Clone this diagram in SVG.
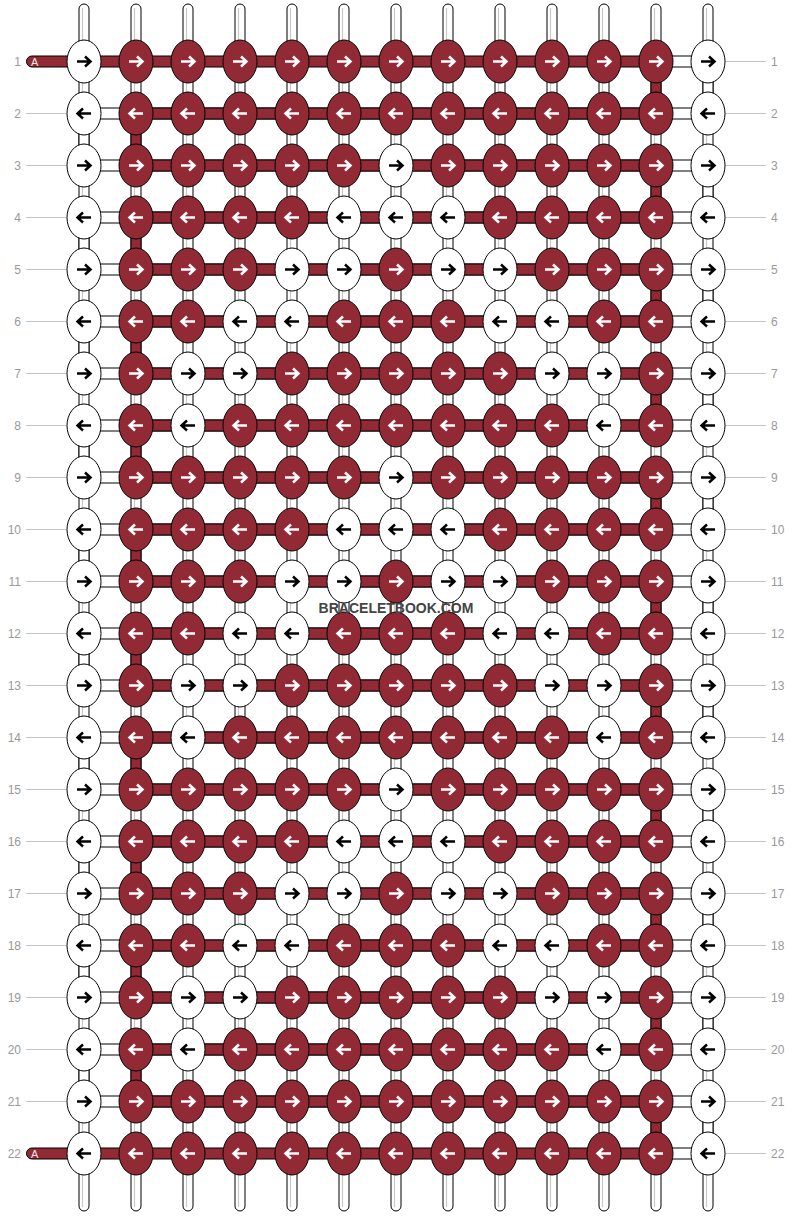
<svg xmlns="http://www.w3.org/2000/svg" xmlns:xlink="http://www.w3.org/1999/xlink" width="792" height="1216" viewBox="0 0 792 1216">
<style>
.kw{fill:#fff;stroke:#000;stroke-width:1}
.kr{fill:#922a35;stroke:#000;stroke-width:1}
.ak{fill:none;stroke:#000;stroke-width:2.5}
.aw{fill:none;stroke:#fff;stroke-width:2.5}
.cw{fill:#fff;stroke:#000;stroke-width:1}
.cr{fill:#922a35;stroke:#000;stroke-width:1}
.gl{stroke:#c8c8c8;stroke-width:1.2}
.ll{stroke:#c4c4c4;stroke-width:1}
.lb{font-family:"Liberation Sans",Arial,sans-serif;font-size:12px;fill:#999}
.lr{text-anchor:end}
.tl{font-family:"Liberation Sans",Arial,sans-serif;font-size:11px;fill:#f4e2e4}
.wm{font-family:"Liberation Sans",Arial,sans-serif;font-weight:bold;font-size:14px;fill:#444;text-anchor:middle}
</style>
<defs>
<path id="ar" d="M-7 0H6M1-5L6.5 0L1 5"/>
<path id="al" d="M7 0H-6M-1-5L-6.5 0L-1 5"/>
<g id="wr"><ellipse class="kw" rx="17" ry="21.5"/><use href="#ar" class="ak"/></g>
<g id="wl"><ellipse class="kw" rx="17" ry="21.5"/><use href="#al" class="ak"/></g>
<g id="rr"><ellipse class="kr" rx="17" ry="21.5"/><use href="#ar" class="aw"/></g>
<g id="rl"><ellipse class="kr" rx="17" ry="21.5"/><use href="#al" class="aw"/></g>
<rect id="vw" class="cw" width="10" height="32"/>
<rect id="vr" class="cr" width="10" height="32"/>
<g id="hrow"><rect class="cw" x="84" width="624" height="11"/><rect class="cr" x="136" width="520" height="11"/></g>
<g id="hend"><rect class="cr" x="26.5" width="629.5" height="11" rx="5.5"/><rect class="cw" x="656" width="52" height="11"/></g>
</defs>
<rect width="792" height="1216" fill="#fff"/>
<g id="connectors">
<g id="base-strings">
<rect class="cw" x="79" y="4" width="10" height="1207" rx="5"/><line class="gl" x1="82.5" y1="8" x2="82.5" y2="1207"/>
<rect class="cw" x="131" y="4" width="10" height="1207" rx="5"/><line class="gl" x1="134.5" y1="8" x2="134.5" y2="1207"/>
<rect class="cw" x="183" y="4" width="10" height="1207" rx="5"/><line class="gl" x1="186.5" y1="8" x2="186.5" y2="1207"/>
<rect class="cw" x="235" y="4" width="10" height="1207" rx="5"/><line class="gl" x1="238.5" y1="8" x2="238.5" y2="1207"/>
<rect class="cw" x="287" y="4" width="10" height="1207" rx="5"/><line class="gl" x1="290.5" y1="8" x2="290.5" y2="1207"/>
<rect class="cw" x="339" y="4" width="10" height="1207" rx="5"/><line class="gl" x1="342.5" y1="8" x2="342.5" y2="1207"/>
<rect class="cw" x="391" y="4" width="10" height="1207" rx="5"/><line class="gl" x1="394.5" y1="8" x2="394.5" y2="1207"/>
<rect class="cw" x="443" y="4" width="10" height="1207" rx="5"/><line class="gl" x1="446.5" y1="8" x2="446.5" y2="1207"/>
<rect class="cw" x="495" y="4" width="10" height="1207" rx="5"/><line class="gl" x1="498.5" y1="8" x2="498.5" y2="1207"/>
<rect class="cw" x="547" y="4" width="10" height="1207" rx="5"/><line class="gl" x1="550.5" y1="8" x2="550.5" y2="1207"/>
<rect class="cw" x="599" y="4" width="10" height="1207" rx="5"/><line class="gl" x1="602.5" y1="8" x2="602.5" y2="1207"/>
<rect class="cw" x="651" y="4" width="10" height="1207" rx="5"/><line class="gl" x1="654.5" y1="8" x2="654.5" y2="1207"/>
<rect class="cw" x="703" y="4" width="10" height="1207" rx="5"/><line class="gl" x1="706.5" y1="8" x2="706.5" y2="1207"/>
</g>
<g id="edge-turns">
<use href="#vw" x="79" y="123.5"/><use href="#vw" x="79" y="227.5"/><use href="#vw" x="79" y="331.5"/><use href="#vw" x="79" y="435.5"/><use href="#vw" x="79" y="539.5"/><use href="#vw" x="79" y="643.5"/><use href="#vw" x="79" y="747.5"/><use href="#vw" x="79" y="851.5"/><use href="#vw" x="79" y="955.5"/><use href="#vw" x="79" y="1059.5"/>
<use href="#vr" x="131" y="123.5"/><use href="#vr" x="131" y="227.5"/><use href="#vr" x="131" y="331.5"/><use href="#vr" x="131" y="435.5"/><use href="#vr" x="131" y="539.5"/><use href="#vr" x="131" y="643.5"/><use href="#vr" x="131" y="747.5"/><use href="#vr" x="131" y="851.5"/><use href="#vr" x="131" y="955.5"/><use href="#vr" x="131" y="1059.5"/>
<use href="#vr" x="651" y="71.5"/><use href="#vr" x="651" y="175.5"/><use href="#vr" x="651" y="279.5"/><use href="#vr" x="651" y="383.5"/><use href="#vr" x="651" y="487.5"/><use href="#vr" x="651" y="591.5"/><use href="#vr" x="651" y="695.5"/><use href="#vr" x="651" y="799.5"/><use href="#vr" x="651" y="903.5"/><use href="#vr" x="651" y="1007.5"/><use href="#vr" x="651" y="1111.5"/>
<use href="#vw" x="703" y="71.5"/><use href="#vw" x="703" y="175.5"/><use href="#vw" x="703" y="279.5"/><use href="#vw" x="703" y="383.5"/><use href="#vw" x="703" y="487.5"/><use href="#vw" x="703" y="591.5"/><use href="#vw" x="703" y="695.5"/><use href="#vw" x="703" y="799.5"/><use href="#vw" x="703" y="903.5"/><use href="#vw" x="703" y="1007.5"/><use href="#vw" x="703" y="1111.5"/>
</g>
<g id="row-threads">
<use href="#hend" y="56"/>
<use href="#hrow" y="108"/><use href="#hrow" y="160"/><use href="#hrow" y="212"/><use href="#hrow" y="264"/><use href="#hrow" y="316"/><use href="#hrow" y="368"/><use href="#hrow" y="420"/><use href="#hrow" y="472"/><use href="#hrow" y="524"/><use href="#hrow" y="576"/><use href="#hrow" y="628"/><use href="#hrow" y="680"/><use href="#hrow" y="732"/><use href="#hrow" y="784"/><use href="#hrow" y="836"/><use href="#hrow" y="888"/><use href="#hrow" y="940"/><use href="#hrow" y="992"/><use href="#hrow" y="1044"/><use href="#hrow" y="1096"/>
<use href="#hend" y="1148"/>
<text class="tl" x="31" y="65.8">A</text>
<text class="tl" x="31" y="1157.8">A</text>
</g>
</g>
<g id="labels">
<line class="ll" x1="26" y1="113.5" x2="75" y2="113.5"/><line class="ll" x1="26" y1="165.5" x2="75" y2="165.5"/><line class="ll" x1="26" y1="217.5" x2="75" y2="217.5"/><line class="ll" x1="26" y1="269.5" x2="75" y2="269.5"/><line class="ll" x1="26" y1="321.5" x2="75" y2="321.5"/><line class="ll" x1="26" y1="373.5" x2="75" y2="373.5"/><line class="ll" x1="26" y1="425.5" x2="75" y2="425.5"/><line class="ll" x1="26" y1="477.5" x2="75" y2="477.5"/><line class="ll" x1="26" y1="529.5" x2="75" y2="529.5"/><line class="ll" x1="26" y1="581.5" x2="75" y2="581.5"/><line class="ll" x1="26" y1="633.5" x2="75" y2="633.5"/><line class="ll" x1="26" y1="685.5" x2="75" y2="685.5"/><line class="ll" x1="26" y1="737.5" x2="75" y2="737.5"/><line class="ll" x1="26" y1="789.5" x2="75" y2="789.5"/><line class="ll" x1="26" y1="841.5" x2="75" y2="841.5"/><line class="ll" x1="26" y1="893.5" x2="75" y2="893.5"/><line class="ll" x1="26" y1="945.5" x2="75" y2="945.5"/><line class="ll" x1="26" y1="997.5" x2="75" y2="997.5"/><line class="ll" x1="26" y1="1049.5" x2="75" y2="1049.5"/><line class="ll" x1="26" y1="1101.5" x2="75" y2="1101.5"/>
<line class="ll" x1="717" y1="61.5" x2="766" y2="61.5"/><line class="ll" x1="717" y1="113.5" x2="766" y2="113.5"/><line class="ll" x1="717" y1="165.5" x2="766" y2="165.5"/><line class="ll" x1="717" y1="217.5" x2="766" y2="217.5"/><line class="ll" x1="717" y1="269.5" x2="766" y2="269.5"/><line class="ll" x1="717" y1="321.5" x2="766" y2="321.5"/><line class="ll" x1="717" y1="373.5" x2="766" y2="373.5"/><line class="ll" x1="717" y1="425.5" x2="766" y2="425.5"/><line class="ll" x1="717" y1="477.5" x2="766" y2="477.5"/><line class="ll" x1="717" y1="529.5" x2="766" y2="529.5"/><line class="ll" x1="717" y1="581.5" x2="766" y2="581.5"/><line class="ll" x1="717" y1="633.5" x2="766" y2="633.5"/><line class="ll" x1="717" y1="685.5" x2="766" y2="685.5"/><line class="ll" x1="717" y1="737.5" x2="766" y2="737.5"/><line class="ll" x1="717" y1="789.5" x2="766" y2="789.5"/><line class="ll" x1="717" y1="841.5" x2="766" y2="841.5"/><line class="ll" x1="717" y1="893.5" x2="766" y2="893.5"/><line class="ll" x1="717" y1="945.5" x2="766" y2="945.5"/><line class="ll" x1="717" y1="997.5" x2="766" y2="997.5"/><line class="ll" x1="717" y1="1049.5" x2="766" y2="1049.5"/><line class="ll" x1="717" y1="1101.5" x2="766" y2="1101.5"/><line class="ll" x1="717" y1="1153.5" x2="766" y2="1153.5"/>
<text class="lb lr" x="21" y="65.7">1</text><text class="lb lr" x="21" y="117.7">2</text><text class="lb lr" x="21" y="169.7">3</text><text class="lb lr" x="21" y="221.7">4</text><text class="lb lr" x="21" y="273.7">5</text><text class="lb lr" x="21" y="325.7">6</text><text class="lb lr" x="21" y="377.7">7</text><text class="lb lr" x="21" y="429.7">8</text><text class="lb lr" x="21" y="481.7">9</text><text class="lb lr" x="21" y="533.7">10</text><text class="lb lr" x="21" y="585.7">11</text><text class="lb lr" x="21" y="637.7">12</text><text class="lb lr" x="21" y="689.7">13</text><text class="lb lr" x="21" y="741.7">14</text><text class="lb lr" x="21" y="793.7">15</text><text class="lb lr" x="21" y="845.7">16</text><text class="lb lr" x="21" y="897.7">17</text><text class="lb lr" x="21" y="949.7">18</text><text class="lb lr" x="21" y="1001.7">19</text><text class="lb lr" x="21" y="1053.7">20</text><text class="lb lr" x="21" y="1105.7">21</text><text class="lb lr" x="21" y="1157.7">22</text>
<text class="lb" x="771" y="65.7">1</text><text class="lb" x="771" y="117.7">2</text><text class="lb" x="771" y="169.7">3</text><text class="lb" x="771" y="221.7">4</text><text class="lb" x="771" y="273.7">5</text><text class="lb" x="771" y="325.7">6</text><text class="lb" x="771" y="377.7">7</text><text class="lb" x="771" y="429.7">8</text><text class="lb" x="771" y="481.7">9</text><text class="lb" x="771" y="533.7">10</text><text class="lb" x="771" y="585.7">11</text><text class="lb" x="771" y="637.7">12</text><text class="lb" x="771" y="689.7">13</text><text class="lb" x="771" y="741.7">14</text><text class="lb" x="771" y="793.7">15</text><text class="lb" x="771" y="845.7">16</text><text class="lb" x="771" y="897.7">17</text><text class="lb" x="771" y="949.7">18</text><text class="lb" x="771" y="1001.7">19</text><text class="lb" x="771" y="1053.7">20</text><text class="lb" x="771" y="1105.7">21</text><text class="lb" x="771" y="1157.7">22</text>
</g>
<g id="knots">
<g id="row-1" transform="translate(0,61.5)"><g id="k1-0"><use href="#wr" x="84"/></g><g id="k1-1"><use href="#rr" x="136"/></g><g id="k1-2"><use href="#rr" x="188"/></g><g id="k1-3"><use href="#rr" x="240"/></g><g id="k1-4"><use href="#rr" x="292"/></g><g id="k1-5"><use href="#rr" x="344"/></g><g id="k1-6"><use href="#rr" x="396"/></g><g id="k1-7"><use href="#rr" x="448"/></g><g id="k1-8"><use href="#rr" x="500"/></g><g id="k1-9"><use href="#rr" x="552"/></g><g id="k1-10"><use href="#rr" x="604"/></g><g id="k1-11"><use href="#rr" x="656"/></g><g id="k1-12"><use href="#wr" x="708"/></g></g>
<g id="row-2" transform="translate(0,113.5)"><g id="k2-0"><use href="#wl" x="84"/></g><g id="k2-1"><use href="#rl" x="136"/></g><g id="k2-2"><use href="#rl" x="188"/></g><g id="k2-3"><use href="#rl" x="240"/></g><g id="k2-4"><use href="#rl" x="292"/></g><g id="k2-5"><use href="#rl" x="344"/></g><g id="k2-6"><use href="#rl" x="396"/></g><g id="k2-7"><use href="#rl" x="448"/></g><g id="k2-8"><use href="#rl" x="500"/></g><g id="k2-9"><use href="#rl" x="552"/></g><g id="k2-10"><use href="#rl" x="604"/></g><g id="k2-11"><use href="#rl" x="656"/></g><g id="k2-12"><use href="#wl" x="708"/></g></g>
<g id="row-3" transform="translate(0,165.5)"><g id="k3-0"><use href="#wr" x="84"/></g><g id="k3-1"><use href="#rr" x="136"/></g><g id="k3-2"><use href="#rr" x="188"/></g><g id="k3-3"><use href="#rr" x="240"/></g><g id="k3-4"><use href="#rr" x="292"/></g><g id="k3-5"><use href="#rr" x="344"/></g><g id="k3-6"><use href="#wr" x="396"/></g><g id="k3-7"><use href="#rr" x="448"/></g><g id="k3-8"><use href="#rr" x="500"/></g><g id="k3-9"><use href="#rr" x="552"/></g><g id="k3-10"><use href="#rr" x="604"/></g><g id="k3-11"><use href="#rr" x="656"/></g><g id="k3-12"><use href="#wr" x="708"/></g></g>
<g id="row-4" transform="translate(0,217.5)"><g id="k4-0"><use href="#wl" x="84"/></g><g id="k4-1"><use href="#rl" x="136"/></g><g id="k4-2"><use href="#rl" x="188"/></g><g id="k4-3"><use href="#rl" x="240"/></g><g id="k4-4"><use href="#rl" x="292"/></g><g id="k4-5"><use href="#wl" x="344"/></g><g id="k4-6"><use href="#wl" x="396"/></g><g id="k4-7"><use href="#wl" x="448"/></g><g id="k4-8"><use href="#rl" x="500"/></g><g id="k4-9"><use href="#rl" x="552"/></g><g id="k4-10"><use href="#rl" x="604"/></g><g id="k4-11"><use href="#rl" x="656"/></g><g id="k4-12"><use href="#wl" x="708"/></g></g>
<g id="row-5" transform="translate(0,269.5)"><g id="k5-0"><use href="#wr" x="84"/></g><g id="k5-1"><use href="#rr" x="136"/></g><g id="k5-2"><use href="#rr" x="188"/></g><g id="k5-3"><use href="#rr" x="240"/></g><g id="k5-4"><use href="#wr" x="292"/></g><g id="k5-5"><use href="#wr" x="344"/></g><g id="k5-6"><use href="#rr" x="396"/></g><g id="k5-7"><use href="#wr" x="448"/></g><g id="k5-8"><use href="#wr" x="500"/></g><g id="k5-9"><use href="#rr" x="552"/></g><g id="k5-10"><use href="#rr" x="604"/></g><g id="k5-11"><use href="#rr" x="656"/></g><g id="k5-12"><use href="#wr" x="708"/></g></g>
<g id="row-6" transform="translate(0,321.5)"><g id="k6-0"><use href="#wl" x="84"/></g><g id="k6-1"><use href="#rl" x="136"/></g><g id="k6-2"><use href="#rl" x="188"/></g><g id="k6-3"><use href="#wl" x="240"/></g><g id="k6-4"><use href="#wl" x="292"/></g><g id="k6-5"><use href="#rl" x="344"/></g><g id="k6-6"><use href="#rl" x="396"/></g><g id="k6-7"><use href="#rl" x="448"/></g><g id="k6-8"><use href="#wl" x="500"/></g><g id="k6-9"><use href="#wl" x="552"/></g><g id="k6-10"><use href="#rl" x="604"/></g><g id="k6-11"><use href="#rl" x="656"/></g><g id="k6-12"><use href="#wl" x="708"/></g></g>
<g id="row-7" transform="translate(0,373.5)"><g id="k7-0"><use href="#wr" x="84"/></g><g id="k7-1"><use href="#rr" x="136"/></g><g id="k7-2"><use href="#wr" x="188"/></g><g id="k7-3"><use href="#wr" x="240"/></g><g id="k7-4"><use href="#rr" x="292"/></g><g id="k7-5"><use href="#rr" x="344"/></g><g id="k7-6"><use href="#rr" x="396"/></g><g id="k7-7"><use href="#rr" x="448"/></g><g id="k7-8"><use href="#rr" x="500"/></g><g id="k7-9"><use href="#wr" x="552"/></g><g id="k7-10"><use href="#wr" x="604"/></g><g id="k7-11"><use href="#rr" x="656"/></g><g id="k7-12"><use href="#wr" x="708"/></g></g>
<g id="row-8" transform="translate(0,425.5)"><g id="k8-0"><use href="#wl" x="84"/></g><g id="k8-1"><use href="#rl" x="136"/></g><g id="k8-2"><use href="#wl" x="188"/></g><g id="k8-3"><use href="#rl" x="240"/></g><g id="k8-4"><use href="#rl" x="292"/></g><g id="k8-5"><use href="#rl" x="344"/></g><g id="k8-6"><use href="#rl" x="396"/></g><g id="k8-7"><use href="#rl" x="448"/></g><g id="k8-8"><use href="#rl" x="500"/></g><g id="k8-9"><use href="#rl" x="552"/></g><g id="k8-10"><use href="#wl" x="604"/></g><g id="k8-11"><use href="#rl" x="656"/></g><g id="k8-12"><use href="#wl" x="708"/></g></g>
<g id="row-9" transform="translate(0,477.5)"><g id="k9-0"><use href="#wr" x="84"/></g><g id="k9-1"><use href="#rr" x="136"/></g><g id="k9-2"><use href="#rr" x="188"/></g><g id="k9-3"><use href="#rr" x="240"/></g><g id="k9-4"><use href="#rr" x="292"/></g><g id="k9-5"><use href="#rr" x="344"/></g><g id="k9-6"><use href="#wr" x="396"/></g><g id="k9-7"><use href="#rr" x="448"/></g><g id="k9-8"><use href="#rr" x="500"/></g><g id="k9-9"><use href="#rr" x="552"/></g><g id="k9-10"><use href="#rr" x="604"/></g><g id="k9-11"><use href="#rr" x="656"/></g><g id="k9-12"><use href="#wr" x="708"/></g></g>
<g id="row-10" transform="translate(0,529.5)"><g id="k10-0"><use href="#wl" x="84"/></g><g id="k10-1"><use href="#rl" x="136"/></g><g id="k10-2"><use href="#rl" x="188"/></g><g id="k10-3"><use href="#rl" x="240"/></g><g id="k10-4"><use href="#rl" x="292"/></g><g id="k10-5"><use href="#wl" x="344"/></g><g id="k10-6"><use href="#wl" x="396"/></g><g id="k10-7"><use href="#wl" x="448"/></g><g id="k10-8"><use href="#rl" x="500"/></g><g id="k10-9"><use href="#rl" x="552"/></g><g id="k10-10"><use href="#rl" x="604"/></g><g id="k10-11"><use href="#rl" x="656"/></g><g id="k10-12"><use href="#wl" x="708"/></g></g>
<g id="row-11" transform="translate(0,581.5)"><g id="k11-0"><use href="#wr" x="84"/></g><g id="k11-1"><use href="#rr" x="136"/></g><g id="k11-2"><use href="#rr" x="188"/></g><g id="k11-3"><use href="#rr" x="240"/></g><g id="k11-4"><use href="#wr" x="292"/></g><g id="k11-5"><use href="#wr" x="344"/></g><g id="k11-6"><use href="#rr" x="396"/></g><g id="k11-7"><use href="#wr" x="448"/></g><g id="k11-8"><use href="#wr" x="500"/></g><g id="k11-9"><use href="#rr" x="552"/></g><g id="k11-10"><use href="#rr" x="604"/></g><g id="k11-11"><use href="#rr" x="656"/></g><g id="k11-12"><use href="#wr" x="708"/></g></g>
<g id="row-12" transform="translate(0,633.5)"><g id="k12-0"><use href="#wl" x="84"/></g><g id="k12-1"><use href="#rl" x="136"/></g><g id="k12-2"><use href="#rl" x="188"/></g><g id="k12-3"><use href="#wl" x="240"/></g><g id="k12-4"><use href="#wl" x="292"/></g><g id="k12-5"><use href="#rl" x="344"/></g><g id="k12-6"><use href="#rl" x="396"/></g><g id="k12-7"><use href="#rl" x="448"/></g><g id="k12-8"><use href="#wl" x="500"/></g><g id="k12-9"><use href="#wl" x="552"/></g><g id="k12-10"><use href="#rl" x="604"/></g><g id="k12-11"><use href="#rl" x="656"/></g><g id="k12-12"><use href="#wl" x="708"/></g></g>
<g id="row-13" transform="translate(0,685.5)"><g id="k13-0"><use href="#wr" x="84"/></g><g id="k13-1"><use href="#rr" x="136"/></g><g id="k13-2"><use href="#wr" x="188"/></g><g id="k13-3"><use href="#wr" x="240"/></g><g id="k13-4"><use href="#rr" x="292"/></g><g id="k13-5"><use href="#rr" x="344"/></g><g id="k13-6"><use href="#rr" x="396"/></g><g id="k13-7"><use href="#rr" x="448"/></g><g id="k13-8"><use href="#rr" x="500"/></g><g id="k13-9"><use href="#wr" x="552"/></g><g id="k13-10"><use href="#wr" x="604"/></g><g id="k13-11"><use href="#rr" x="656"/></g><g id="k13-12"><use href="#wr" x="708"/></g></g>
<g id="row-14" transform="translate(0,737.5)"><g id="k14-0"><use href="#wl" x="84"/></g><g id="k14-1"><use href="#rl" x="136"/></g><g id="k14-2"><use href="#wl" x="188"/></g><g id="k14-3"><use href="#rl" x="240"/></g><g id="k14-4"><use href="#rl" x="292"/></g><g id="k14-5"><use href="#rl" x="344"/></g><g id="k14-6"><use href="#rl" x="396"/></g><g id="k14-7"><use href="#rl" x="448"/></g><g id="k14-8"><use href="#rl" x="500"/></g><g id="k14-9"><use href="#rl" x="552"/></g><g id="k14-10"><use href="#wl" x="604"/></g><g id="k14-11"><use href="#rl" x="656"/></g><g id="k14-12"><use href="#wl" x="708"/></g></g>
<g id="row-15" transform="translate(0,789.5)"><g id="k15-0"><use href="#wr" x="84"/></g><g id="k15-1"><use href="#rr" x="136"/></g><g id="k15-2"><use href="#rr" x="188"/></g><g id="k15-3"><use href="#rr" x="240"/></g><g id="k15-4"><use href="#rr" x="292"/></g><g id="k15-5"><use href="#rr" x="344"/></g><g id="k15-6"><use href="#wr" x="396"/></g><g id="k15-7"><use href="#rr" x="448"/></g><g id="k15-8"><use href="#rr" x="500"/></g><g id="k15-9"><use href="#rr" x="552"/></g><g id="k15-10"><use href="#rr" x="604"/></g><g id="k15-11"><use href="#rr" x="656"/></g><g id="k15-12"><use href="#wr" x="708"/></g></g>
<g id="row-16" transform="translate(0,841.5)"><g id="k16-0"><use href="#wl" x="84"/></g><g id="k16-1"><use href="#rl" x="136"/></g><g id="k16-2"><use href="#rl" x="188"/></g><g id="k16-3"><use href="#rl" x="240"/></g><g id="k16-4"><use href="#rl" x="292"/></g><g id="k16-5"><use href="#wl" x="344"/></g><g id="k16-6"><use href="#wl" x="396"/></g><g id="k16-7"><use href="#wl" x="448"/></g><g id="k16-8"><use href="#rl" x="500"/></g><g id="k16-9"><use href="#rl" x="552"/></g><g id="k16-10"><use href="#rl" x="604"/></g><g id="k16-11"><use href="#rl" x="656"/></g><g id="k16-12"><use href="#wl" x="708"/></g></g>
<g id="row-17" transform="translate(0,893.5)"><g id="k17-0"><use href="#wr" x="84"/></g><g id="k17-1"><use href="#rr" x="136"/></g><g id="k17-2"><use href="#rr" x="188"/></g><g id="k17-3"><use href="#rr" x="240"/></g><g id="k17-4"><use href="#wr" x="292"/></g><g id="k17-5"><use href="#wr" x="344"/></g><g id="k17-6"><use href="#rr" x="396"/></g><g id="k17-7"><use href="#wr" x="448"/></g><g id="k17-8"><use href="#wr" x="500"/></g><g id="k17-9"><use href="#rr" x="552"/></g><g id="k17-10"><use href="#rr" x="604"/></g><g id="k17-11"><use href="#rr" x="656"/></g><g id="k17-12"><use href="#wr" x="708"/></g></g>
<g id="row-18" transform="translate(0,945.5)"><g id="k18-0"><use href="#wl" x="84"/></g><g id="k18-1"><use href="#rl" x="136"/></g><g id="k18-2"><use href="#rl" x="188"/></g><g id="k18-3"><use href="#wl" x="240"/></g><g id="k18-4"><use href="#wl" x="292"/></g><g id="k18-5"><use href="#rl" x="344"/></g><g id="k18-6"><use href="#rl" x="396"/></g><g id="k18-7"><use href="#rl" x="448"/></g><g id="k18-8"><use href="#wl" x="500"/></g><g id="k18-9"><use href="#wl" x="552"/></g><g id="k18-10"><use href="#rl" x="604"/></g><g id="k18-11"><use href="#rl" x="656"/></g><g id="k18-12"><use href="#wl" x="708"/></g></g>
<g id="row-19" transform="translate(0,997.5)"><g id="k19-0"><use href="#wr" x="84"/></g><g id="k19-1"><use href="#rr" x="136"/></g><g id="k19-2"><use href="#wr" x="188"/></g><g id="k19-3"><use href="#wr" x="240"/></g><g id="k19-4"><use href="#rr" x="292"/></g><g id="k19-5"><use href="#rr" x="344"/></g><g id="k19-6"><use href="#rr" x="396"/></g><g id="k19-7"><use href="#rr" x="448"/></g><g id="k19-8"><use href="#rr" x="500"/></g><g id="k19-9"><use href="#wr" x="552"/></g><g id="k19-10"><use href="#wr" x="604"/></g><g id="k19-11"><use href="#rr" x="656"/></g><g id="k19-12"><use href="#wr" x="708"/></g></g>
<g id="row-20" transform="translate(0,1049.5)"><g id="k20-0"><use href="#wl" x="84"/></g><g id="k20-1"><use href="#rl" x="136"/></g><g id="k20-2"><use href="#wl" x="188"/></g><g id="k20-3"><use href="#rl" x="240"/></g><g id="k20-4"><use href="#rl" x="292"/></g><g id="k20-5"><use href="#rl" x="344"/></g><g id="k20-6"><use href="#rl" x="396"/></g><g id="k20-7"><use href="#rl" x="448"/></g><g id="k20-8"><use href="#rl" x="500"/></g><g id="k20-9"><use href="#rl" x="552"/></g><g id="k20-10"><use href="#wl" x="604"/></g><g id="k20-11"><use href="#rl" x="656"/></g><g id="k20-12"><use href="#wl" x="708"/></g></g>
<g id="row-21" transform="translate(0,1101.5)"><g id="k21-0"><use href="#wr" x="84"/></g><g id="k21-1"><use href="#rr" x="136"/></g><g id="k21-2"><use href="#rr" x="188"/></g><g id="k21-3"><use href="#rr" x="240"/></g><g id="k21-4"><use href="#rr" x="292"/></g><g id="k21-5"><use href="#rr" x="344"/></g><g id="k21-6"><use href="#rr" x="396"/></g><g id="k21-7"><use href="#rr" x="448"/></g><g id="k21-8"><use href="#rr" x="500"/></g><g id="k21-9"><use href="#rr" x="552"/></g><g id="k21-10"><use href="#rr" x="604"/></g><g id="k21-11"><use href="#rr" x="656"/></g><g id="k21-12"><use href="#wr" x="708"/></g></g>
<g id="row-22" transform="translate(0,1153.5)"><g id="k22-0"><use href="#wl" x="84"/></g><g id="k22-1"><use href="#rl" x="136"/></g><g id="k22-2"><use href="#rl" x="188"/></g><g id="k22-3"><use href="#rl" x="240"/></g><g id="k22-4"><use href="#rl" x="292"/></g><g id="k22-5"><use href="#rl" x="344"/></g><g id="k22-6"><use href="#rl" x="396"/></g><g id="k22-7"><use href="#rl" x="448"/></g><g id="k22-8"><use href="#rl" x="500"/></g><g id="k22-9"><use href="#rl" x="552"/></g><g id="k22-10"><use href="#rl" x="604"/></g><g id="k22-11"><use href="#rl" x="656"/></g><g id="k22-12"><use href="#wl" x="708"/></g></g>
</g>
<text id="watermark" class="wm" x="396" y="612.5">BRACELETBOOK.COM</text>
</svg>
